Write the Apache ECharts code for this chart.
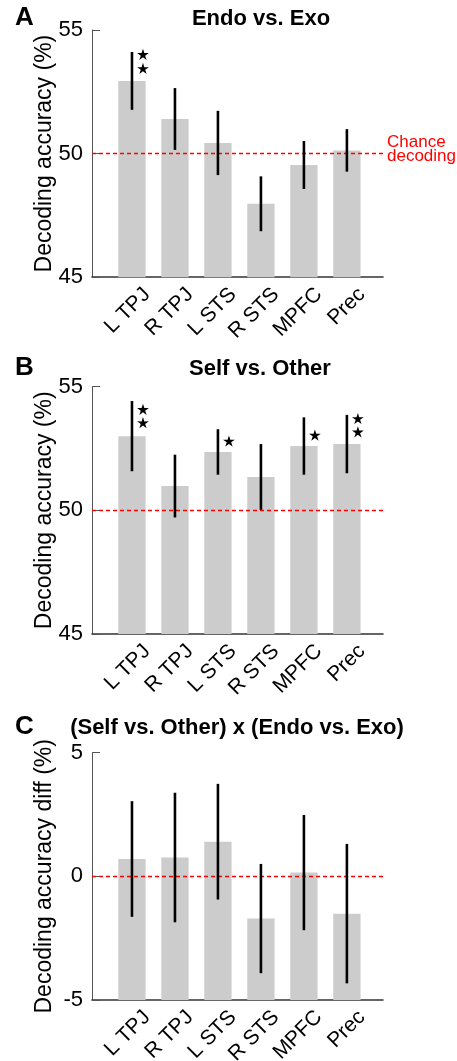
<!DOCTYPE html>
<html>
<head>
<meta charset="utf-8">
<script src="https://cdn.jsdelivr.net/npm/echarts@6/dist/echarts.min.js"></script>
<style>
html,body{margin:0;padding:0;background:#fff;}
#chart{width:457px;height:1061px;}
</style>
</head>
<body>
<div id="chart"></div>
<script>
const categories = ['L TPJ', 'R TPJ', 'L STS', 'R STS', 'MPFC', 'Prec'];
const endoExoMean = [52.94, 51.40, 50.43, 47.97, 49.54, 50.13];
const endoExoErr = [1.17, 1.25, 1.30, 1.11, 0.97, 0.86];
const selfOtherMean = [53.00, 50.98, 52.36, 51.35, 52.60, 52.68];
const selfOtherErr = [1.42, 1.27, 0.92, 1.33, 1.16, 1.18];
const interMean = [0.70, 0.76, 1.40, -1.71, 0.15, -1.51];
const interErr = [2.34, 2.62, 2.34, 2.21, 2.33, 2.82];
// significance stars: [category number (1-based), y value]
const endoExoStars = [[1, 53.99], [1, 53.42]];
const selfOtherStars = [[1, 54.06], [1, 53.52], [3, 52.78], [5, 53.02], [6, 53.69], [6, 53.15]];
const interStars = [];
const yTicksAcc = [45, 50, 55];
const yTicksDiff = [-5, 0, 5];
const chanceAcc = 50;
const chanceDiff = 0;
const panelTitles = ['Endo vs. Exo', 'Self vs. Other', '(Self vs. Other) x (Endo vs. Exo)'];
const panelLetters = ['A', 'B', 'C'];
const yNames = ['Decoding accuracy (%)', 'Decoding accuracy (%)', 'Decoding accuracy diff (%)'];

const FONT = "'Liberation Sans', Arial, Helvetica, sans-serif";
const chart = echarts.init(document.getElementById('chart'), null, {renderer: 'canvas'});

const gridTops = [30, 386.7, 752.7];
const gridH = 247.2;
const titleX = [261, 260, 237];
const titleY = [19, 368.5, 727.5];
const letterY = [18, 368, 726.5];
const labelOffset = [15, 14]; // rotated tick labels hang right of / below the category
const catIdx = categories.map((c, i) => i + 1);

function barRender(base) {
  return function (params, api) {
    const x = api.value(0), v = api.value(1);
    const p0 = api.coord([x, v]);
    const p1 = api.coord([x, base]);
    const w = api.size([0.635, 0])[0];
    return {type: 'rect', shape: {x: p0[0] - w / 2, y: p0[1], width: w, height: p1[1] - p0[1]},
      style: {fill: '#cccccc'}};
  };
}
function errRender(params, api) {
  const x = api.value(0), v = api.value(1), e = api.value(2);
  const a = api.coord([x, v - e]);
  const b = api.coord([x, v + e]);
  return {type: 'line', shape: {x1: a[0], y1: a[1], x2: b[0], y2: b[1]},
    style: {stroke: '#000', lineWidth: 2.6}};
}
function starRender(params, api) {
  const c = api.coord([api.value(0), api.value(1)]);
  const cx = c[0] + 11, cy = c[1];
  const pts = [];
  const R = 6.2, r = 2.3;
  for (let k = 0; k < 10; k++) {
    const ang = -Math.PI / 2 + k * Math.PI / 5;
    const rad = k % 2 === 0 ? R : r;
    pts.push([cx + rad * Math.cos(ang), cy + rad * Math.sin(ang)]);
  }
  return {type: 'polygon', shape: {points: pts}, style: {fill: '#000'}};
}
function labelRender(base) {
  return function (params, api) {
    const p = api.coord([api.value(0), base]);
    return {type: 'text', x: p[0] + labelOffset[0], y: p[1] + labelOffset[1], rotation: Math.PI / 4,
      style: {text: categories[params.dataIndex], x: 0, y: 0, textAlign: 'right', textVerticalAlign: 'middle',
        font: '21px ' + FONT, fill: '#000'}};
  };
}

const means = [endoExoMean, selfOtherMean, interMean];
const errs = [endoExoErr, selfOtherErr, interErr];
const stars = [endoExoStars, selfOtherStars, interStars];
const ticks = [yTicksAcc, yTicksAcc, yTicksDiff];
const chance = [chanceAcc, chanceAcc, chanceDiff];

const grids = [], xAxes = [], yAxes = [], series = [];
for (let g = 0; g < 3; g++) {
  grids.push({left: 92, top: gridTops[g], width: 291, height: gridH, containLabel: false, outerBoundsMode: 'none'});
  xAxes.push({
    gridIndex: g, type: 'value', min: 0.07, max: 6.84,
    axisLine: {show: true, onZero: false, lineStyle: {color: '#333', width: 1.6}},
    axisTick: {show: false},
    splitLine: {show: false},
    axisLabel: {show: false}
  });
  const t = ticks[g];
  yAxes.push({
    gridIndex: g, type: 'value', min: t[0], max: t[2], interval: t[1] - t[0],
    axisLine: {show: true, onZero: false, lineStyle: {color: '#555', width: 1}},
    axisTick: {show: true, inside: true, length: 8, lineStyle: {color: '#555', width: 1}},
    splitLine: {show: false},
    axisLabel: {fontSize: 22, color: '#000', fontFamily: FONT, margin: 9},
    name: yNames[g], nameLocation: 'middle', nameRotate: 90, nameGap: 36, nameMoveOverlap: false,
    nameTextStyle: {fontSize: 23, color: '#000', fontFamily: FONT}
  });
  series.push({
    type: 'custom', xAxisIndex: g, yAxisIndex: g, z: 1,
    renderItem: barRender(t[0]),
    data: means[g].map((v, i) => [catIdx[i], v]),
    markLine: {
      silent: true, symbol: ['none', 'none'], z: 3,
      lineStyle: {color: '#ff0000', type: [4, 3], width: 1.3},
      label: g === 0 ? {show: true, position: 'end', formatter: 'Chance\ndecoding', color: '#ff0000',
        fontSize: 17, lineHeight: 14, fontFamily: FONT, distance: 4, offset: [0, -4]} : {show: false},
      data: [{yAxis: chance[g]}]
    }
  });
  series.push({
    type: 'custom', xAxisIndex: g, yAxisIndex: g, z: 5,
    renderItem: errRender,
    data: means[g].map((v, i) => [catIdx[i], v, errs[g][i]])
  });
  if (stars[g].length) {
    series.push({
      type: 'custom', xAxisIndex: g, yAxisIndex: g, z: 5,
      renderItem: starRender,
      data: stars[g]
    });
  }
  series.push({
    type: 'custom', xAxisIndex: g, yAxisIndex: g, z: 5, clip: false, silent: true,
    renderItem: labelRender(t[0]),
    data: catIdx.map(i => [i, t[0]])
  });
}

const graphics = [];
for (let g = 0; g < 3; g++) {
  graphics.push({type: 'text', x: 15, y: letterY[g],
    style: {text: panelLetters[g], font: "bold 26px " + FONT, fill: '#000', textVerticalAlign: 'middle'}});
  graphics.push({type: 'text', x: titleX[g], y: titleY[g],
    style: {text: panelTitles[g], font: "bold 22px " + FONT, fill: '#000', textAlign: 'center', textVerticalAlign: 'middle'}});
}

chart.setOption({
  animation: false,
  backgroundColor: '#fff',
  textStyle: {fontFamily: FONT},
  grid: grids, xAxis: xAxes, yAxis: yAxes, series: series,
  graphic: graphics
});
</script>
</body>
</html>
